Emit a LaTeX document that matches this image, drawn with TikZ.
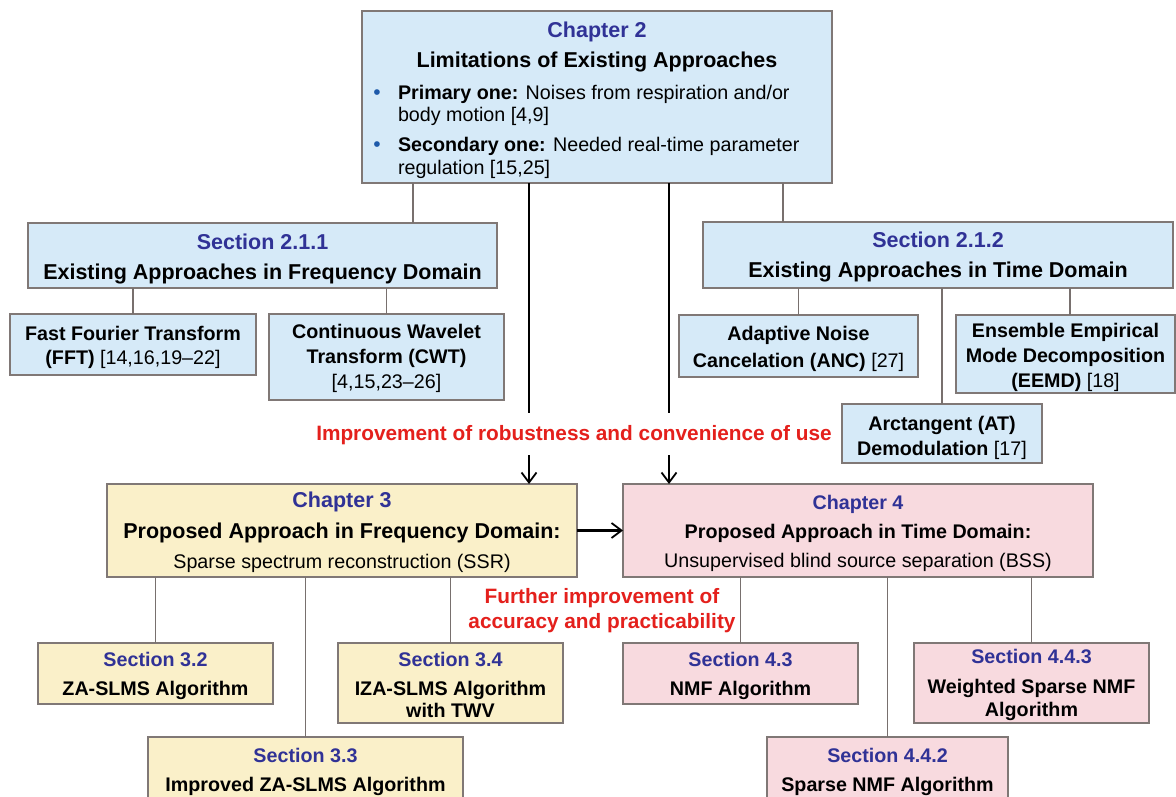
\documentclass[tikz,border=0pt]{standalone}
\usepackage{fontspec}
\setmainfont{Liberation Sans}
\usetikzlibrary{arrows.meta}

\definecolor{bluefill}{RGB}{214,234,248}
\definecolor{yelfill}{RGB}{250,240,201}
\definecolor{pinkfill}{RGB}{248,218,223}
\definecolor{edgegray}{RGB}{128,120,118}
\definecolor{linkgray}{RGB}{120,112,110}
\definecolor{chapblue}{RGB}{48,50,150}
\definecolor{notered}{RGB}{228,32,28}
\definecolor{bulblue}{RGB}{30,90,170}

% one text line: #1 = distance from the previous baseline, #2 = text
\newcommand\hl[2]{{\fontsize{21.5}{#1}\selectfont\bfseries #2\par}}
\newcommand\nl[2]{{\fontsize{19.7}{#1}\selectfont #2\par}}
\newcommand\cb[1]{\textcolor{chapblue}{#1}}
\newcommand\bu{\leavevmode\llap{\makebox[42pt]{\textcolor{bulblue}{\fontsize{21}{21}\selectfont\textbullet}}}}

% box node: name, x1, y1, x2, y2, first baseline, fill, lines
\newcommand\tbox[8]{%
  \node[tb, fill=#7, minimum width={#4-#2}, minimum height={#5-#3},
        text height={#6-#3}, text depth={#5-#6}]
    (#1) at ({(#2+#4)/2},{(#3+#5)/2})
    {\parbox[t]{\dimexpr#4pt-#2pt\relax}{\lineskiplimit=-100pt\centering #8}};}

\tikzset{
  tb/.style={draw=edgegray, line width=1.5pt, inner sep=0pt, outer sep=0pt},
  link/.style={draw=linkgray, line width=1.5pt},
  arr/.style={draw=black, line width=2.2pt,
    -{Straight Barb[length=10pt,width=15pt,line width=1.8pt]}},
  note/.style={text=notered, font=\fontsize{20.8}{25}\selectfont\bfseries,
    fill=white, inner xsep=3pt, inner ysep=0pt, anchor=base, align=center}
}

\begin{document}
\begin{tikzpicture}[x=1pt,y=-1pt]
\fill[white] (0,0) rectangle (1176,797);
\useasboundingbox (0,0) rectangle (1176,797);
\clip (0,0) rectangle (1176,797);

% attachment points of the connectors on the wide boxes
\coordinate (p413) at (413,0);
\coordinate (p783) at (783,0);
\coordinate (p529) at (529,0);
\coordinate (p669) at (669,0);
\coordinate (p1070) at (1070,0);

% Chapter 2
\tbox{ch2}{362}{11}{832}{183}{38}{bluefill}{%
  \hl{30}{\cb{Chapter 2}}
  \hl{30}{Limitations of Existing Approaches}
  {\leftskip=36pt\rightskip=0pt plus 1fil
   \nl{32}{\bu\textbf{Primary one:} Noises from respiration and/or}
   \nl{22}{body motion [4,9]}
   \nl{30}{\bu\textbf{Secondary one:} Needed real-time parameter}
   \nl{23}{regulation [15,25]}\par}}

% existing approaches
\tbox{s211}{28}{223}{497}{288}{249}{bluefill}{%
  \hl{30}{\cb{Section 2.1.1}}\hl{30}{Existing Approaches in Frequency Domain}}
\tbox{s212}{703}{222}{1173}{288}{247}{bluefill}{%
  \hl{30}{\cb{Section 2.1.2}}\hl{31}{Existing Approaches in Time Domain}}

\tbox{fft}{10}{314}{256}{375}{340}{bluefill}{%
  \nl{24}{\textbf{Fast Fourier Transform}}\nl{24}{\textbf{(FFT)} [14,16,19--22]}}
\tbox{cwt}{269}{314}{504}{400}{338}{bluefill}{%
  \nl{25}{\textbf{Continuous Wavelet}}\nl{25}{\textbf{Transform (CWT)}}\nl{25}{[4,15,23--26]}}
\tbox{anc}{679}{315}{918}{377}{340}{bluefill}{%
  \nl{27}{\textbf{Adaptive Noise}}\nl{27}{\textbf{Cancelation (ANC)} [27]}}
\tbox{eemd}{956}{315}{1175}{393}{337}{bluefill}{%
  \nl{25}{\textbf{Ensemble Empirical}}\nl{25}{\textbf{Mode Decomposition}}\nl{25}{\textbf{(EEMD)} [18]}}
\tbox{at}{842}{404}{1042}{463}{430}{bluefill}{%
  \nl{25}{\textbf{Arctangent (AT)}}\nl{25}{\textbf{Demodulation} [17]}}

% proposed approaches
\tbox{ch3}{107}{484}{577}{577}{507}{yelfill}{%
  \hl{31}{\cb{Chapter 3}}\hl{31}{Proposed Approach in Frequency Domain:}
  \nl{30}{Sparse spectrum reconstruction (SSR)}}
\tbox{ch4}{623}{484}{1093}{577}{509}{pinkfill}{%
  \nl{29}{\textbf{\cb{Chapter 4}}}\nl{29}{\textbf{Proposed Approach in Time Domain:}}
  \nl{29}{Unsupervised blind source separation (BSS)}}

\tbox{s32}{38}{643}{273}{704}{666}{yelfill}{%
  \nl{29}{\textbf{\cb{Section 3.2}}}\nl{29}{\textbf{ZA-SLMS Algorithm}}}
\tbox{s34}{338}{643}{563}{723}{666}{yelfill}{%
  \nl{29}{\textbf{\cb{Section 3.4}}}\nl{29}{\textbf{IZA-SLMS Algorithm}}\nl{22}{\textbf{with TWV}}}
\tbox{s33}{148}{737}{463}{830}{762}{yelfill}{%
  \nl{29}{\textbf{\cb{Section 3.3}}}\nl{29}{\textbf{Improved ZA-SLMS Algorithm}}}

\tbox{s43}{623}{643}{858}{704}{666}{pinkfill}{%
  \nl{29}{\textbf{\cb{Section 4.3}}}\nl{29}{\textbf{NMF Algorithm}}}
\tbox{s443}{914}{643}{1149}{723}{663}{pinkfill}{%
  \nl{30}{\textbf{\cb{Section 4.4.3}}}\nl{30}{\textbf{Weighted Sparse NMF}}\nl{23}{\textbf{Algorithm}}}
\tbox{s442}{767}{737}{1008}{830}{762}{pinkfill}{%
  \nl{29}{\textbf{\cb{Section 4.4.2}}}\nl{29}{\textbf{Sparse NMF Algorithm}}}

% tree connectors
\draw[link] (ch2.south -| p413) -- (s211.north -| p413);
\draw[link] (ch2.south -| p783) -- (s212.north -| p783);
\draw[link] (s211.south -| fft.north) -- (fft.north);
\draw[link] (s211.south -| cwt.north) -- (cwt.north);
\draw[link] (s212.south -| anc.north) -- (anc.north);
\draw[link] (s212.south -| at.north) -- (at.north);
\draw[link] (s212.south -| p1070) -- (eemd.north -| p1070);
\draw[link] (ch3.south -| s32.north) -- (s32.north);
\draw[link] (ch3.south -| s33.north) -- (s33.north);
\draw[link] (ch3.south -| s34.north) -- (s34.north);
\draw[link] (ch4.south -| s43.north) -- (s43.north);
\draw[link] (ch4.south -| s442.north) -- (s442.north);
\draw[link] (ch4.south -| s443.north) -- (s443.north);

% flow arrows
\draw[arr] (ch2.south -| p529) -- (ch3.north -| p529);
\draw[arr] (ch2.south -| p669) -- (ch4.north -| p669);
\draw[arr] (ch3.east) -- (ch4.west);

% annotations (base anchor sits on the last line)
\node[note, text height=27pt, text depth=15pt] (robust) at (574,440)
  {Improvement of robustness and convenience of use};
\node[note, fill=none] (accur) at (602,628)
  {Further improvement of\\accuracy and practicability};
\end{tikzpicture}
\end{document}
